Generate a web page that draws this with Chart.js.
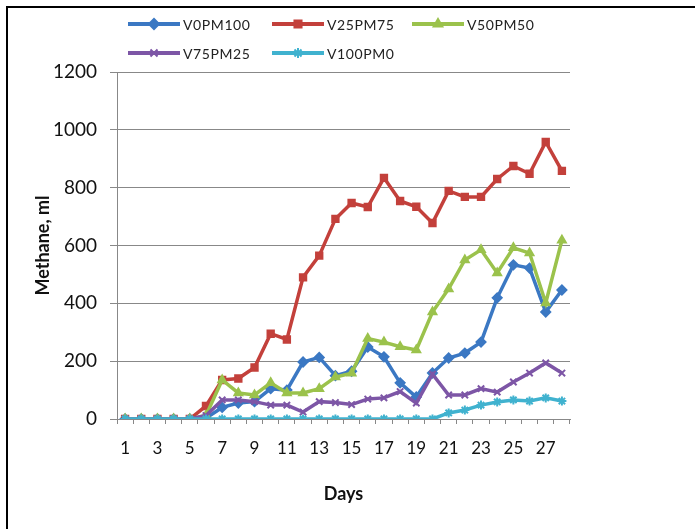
<!DOCTYPE html>
<html>
<head>
<meta charset="utf-8">
<script src="https://cdn.jsdelivr.net/npm/chart.js@4.4.0/dist/chart.umd.min.js"></script>
<style>
  body { margin: 0; background: #fff; }
  #wrap { position: relative; width: 695px; height: 529px; }
  #frame {
    position: absolute; left: 6px; top: 6px; right: 0; bottom: -10px;
    border-top: 2px solid #000; border-left: 2px solid #000;
    pointer-events: none;
  }
</style>
</head>
<body>
<div id="wrap">
  <canvas id="grafico" width="695" height="529"></canvas>
  <div id="frame"></div>
</div>
<script>
// Dias do ensaio
const dias = ["1","2","3","4","5","6","7","8","9","10","11","12","13","14",
  "15","16","17","18","19","20","21","22","23","24","25","26","27","28"];

// Séries (metano acumulado, ml)
const nomes = ["V0PM100", "V25PM75", "V50PM50", "V75PM25", "V100PM0"];
const v0pm100 = [0,0,0,0,0,3,40,55,60,105,100,197,213,150,165,249,215,125,76,159,211,228,266,419,533,522,370,446];
const v25pm75 = [0,0,0,0,0,45,135,140,178,295,275,490,565,692,747,733,834,754,734,678,789,768,768,830,875,848,958,858];
const v50pm50 = [0,0,0,0,0,12,135,90,83,125,90,90,105,145,158,278,266,250,239,370,450,550,585,505,592,574,401,618];
const v75pm25 = [0,0,0,0,0,12,66,66,60,48,48,24,60,57,50,69,73,95,55,155,83,83,105,93,128,159,194,159];
const v100pm0 = [0,0,0,0,0,0,0,0,0,0,0,0,0,0,0,0,0,0,0,0,21,31,48,59,66,62,73,62];
const yTicks = [0, 200, 400, 600, 800, 1000, 1200];

const cores = ["#3b78c3", "#c3403b", "#9bc24c", "#7d56a6", "#40b2cf"];
const marcadores = ["rectRot", "rect", "triangle", "crossRot", "star"];
const series = [v0pm100, v25pm75, v50pm50, v75pm25, v100pm0];

const fonte = "Lato, 'Open Sans', sans-serif";

// Legenda desenhada no estilo do Excel (linha + marcador)
const legendaExcel = {
  id: "legendaExcel",
  afterDraw(chart) {
    const ctx = chart.ctx;
    const pos = [[128, 24], [272, 24], [412, 24], [128, 53], [272, 53]];
    chart.data.datasets.forEach((ds, i) => {
      const [x, y] = pos[i];
      ctx.save();
      ctx.strokeStyle = ds.borderColor;
      ctx.fillStyle = ds.borderColor;
      ctx.lineWidth = 4;
      ctx.beginPath();
      ctx.moveTo(x, y);
      ctx.lineTo(x + 52, y);
      ctx.stroke();
      ctx.lineWidth = 2;
      Chart.helpers.drawPoint(ctx, { pointStyle: ds.pointStyle, radius: 5, rotation: 0, borderWidth: 2 }, x + 26, y);
      ctx.fillStyle = "#222";
      ctx.font = "14px " + fonte;
      ctx.letterSpacing = "0.6px";
      ctx.textBaseline = "middle";
      ctx.fillText(ds.label, x + 55, y + 1);
      ctx.restore();
    });
  }
};

function montarGrafico() {
  const ctx = document.getElementById("grafico").getContext("2d");
  new Chart(ctx, {
    type: "line",
    data: {
      labels: dias,
      datasets: series.map((dados, i) => ({
        label: nomes[i],
        data: dados,
        borderColor: cores[i],
        backgroundColor: cores[i],
        borderWidth: 3.5,
        tension: 0,
        pointStyle: marcadores[i],
        pointRadius: 4.5,
        pointBorderWidth: 2,
        order: series.length - i
      }))
    },
    options: {
      responsive: false,
      animation: false,
      layout: { padding: { top: 72, right: 125, left: 0, bottom: 0 } },
      plugins: {
        legend: { display: false },
        tooltip: { enabled: false }
      },
      scales: {
        x: {
          offset: true,
          afterFit: (s) => { s.height = 110; },
          grid: { offset: true, drawOnChartArea: false, drawTicks: true, tickLength: 5, color: "#888" },
          border: { color: "#888", width: 1 },
          ticks: {
            autoSkip: false,
            maxRotation: 0,
            padding: 14,
            color: "#111",
            font: { family: fonte, size: 17 },
            callback: (v, i) => (i % 2 === 0 ? dias[i] : "")
          },
          title: {
            display: true,
            text: "Days",
            color: "#111",
            font: { family: fonte, size: 18, weight: "bold" },
            padding: { top: 0, bottom: 24 }
          }
        },
        y: {
          min: yTicks[0],
          max: yTicks[yTicks.length - 1],
          afterFit: (s) => { s.width = 117; },
          afterBuildTicks: (s) => { s.ticks = yTicks.map((v) => ({ value: v })); },
          grid: { color: "#888", tickLength: 7, lineWidth: 1 },
          border: { color: "#888", width: 1 },
          ticks: {
            padding: 13,
            color: "#111",
            font: { family: fonte, size: 19 },
            callback: (v) => String(v)
          },
          title: {
            display: true,
            text: "Methane, ml",
            color: "#111",
            font: { family: fonte, size: 18, weight: "bold" },
            padding: { top: 32, bottom: 0 }
          }
        }
      }
    },
    plugins: [legendaExcel]
  });
}

document.addEventListener("DOMContentLoaded", montarGrafico);
</script>
</body>
</html>
